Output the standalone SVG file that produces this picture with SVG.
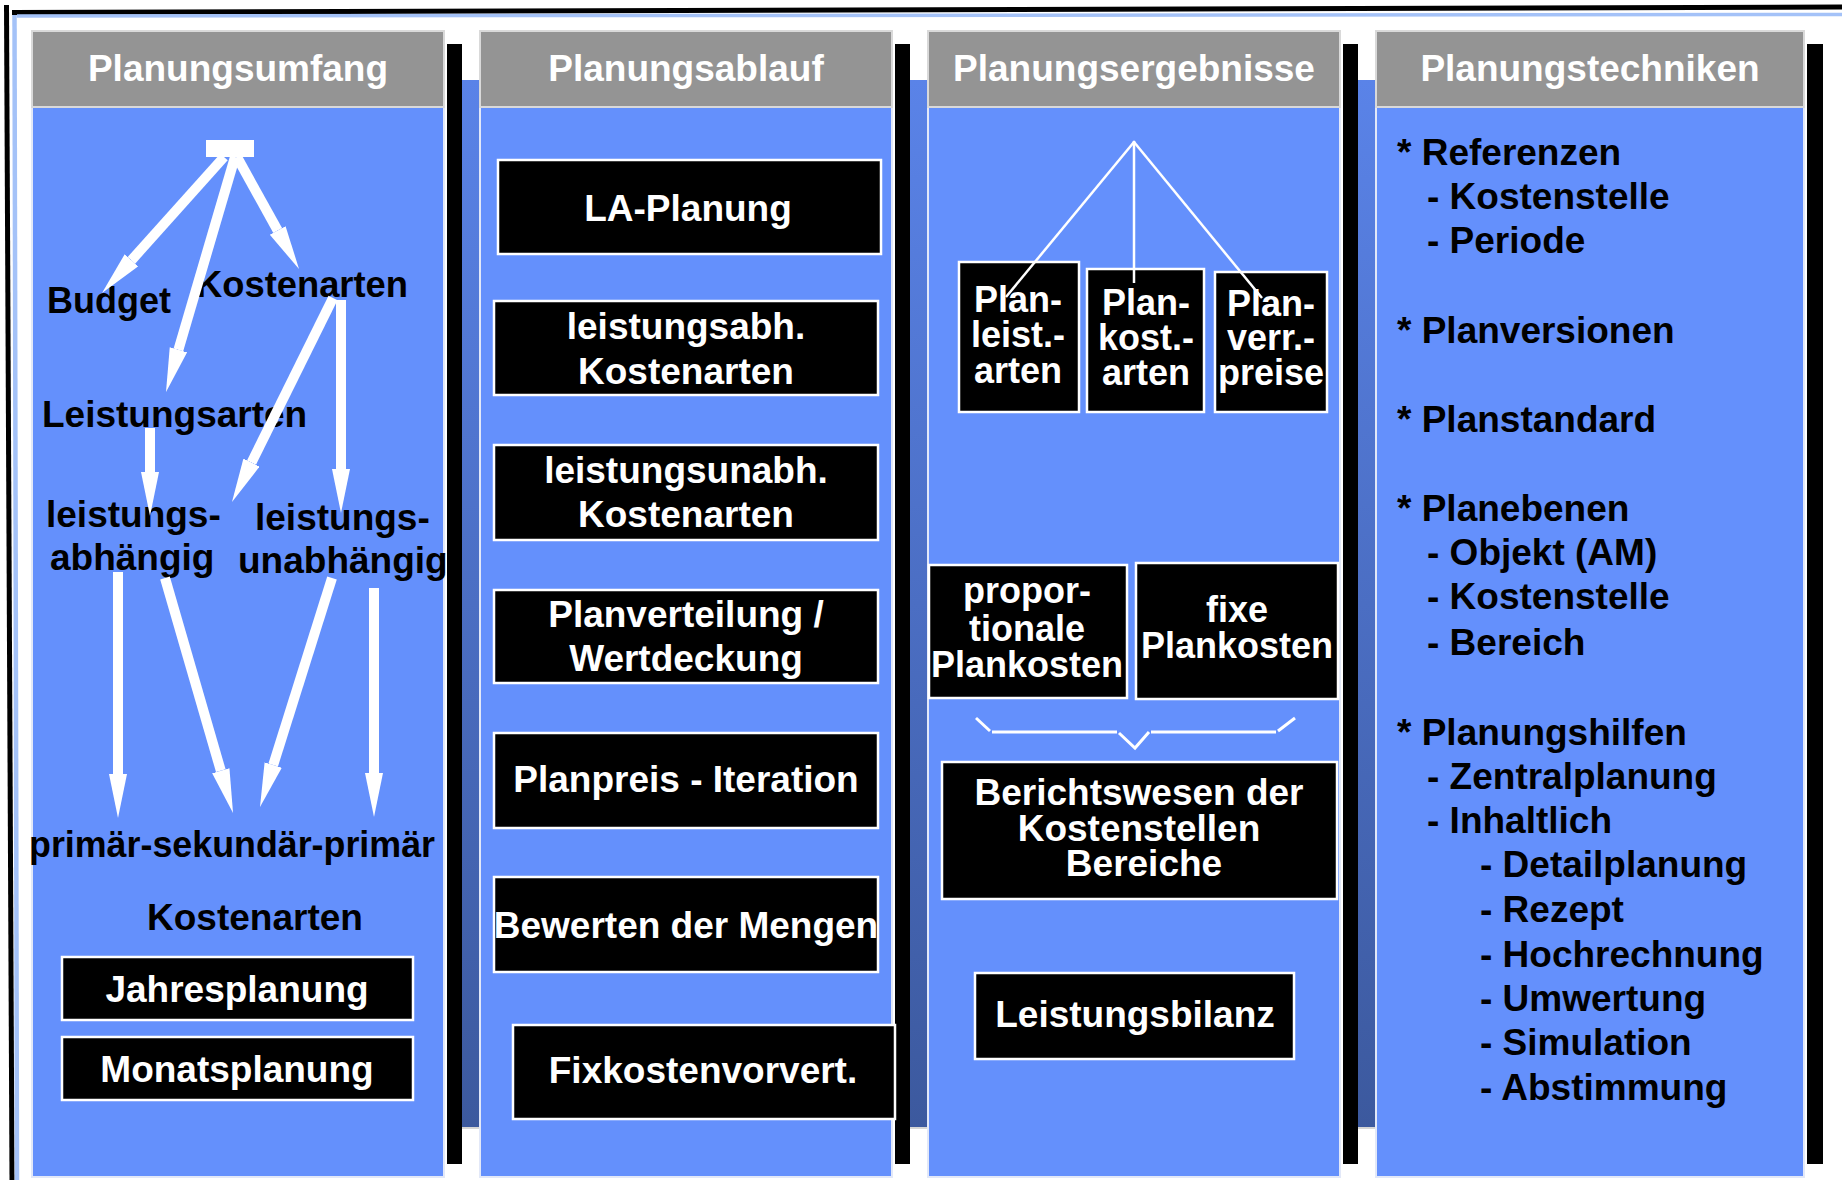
<svg xmlns="http://www.w3.org/2000/svg" width="1842" height="1180" viewBox="0 0 1842 1180">
<defs>
<style>
.hdr{fill:#949494;stroke:#d9d9d9;stroke-width:2}
.body{fill:#6490fc;stroke:#e2e8f8;stroke-width:2}
.bar{fill:#000}
.strip{fill:url(#sg)}
.box{fill:#000;stroke:#fff;stroke-width:2.5}
text{font-family:"Liberation Sans",Arial,sans-serif;font-weight:bold;font-size:37px}
.ht{fill:#fff;text-anchor:middle}
.bt{fill:#fff;text-anchor:middle}
.bt36{fill:#fff;text-anchor:middle;font-size:36px}
.lt{fill:#000}
.arr{stroke:#fff;stroke-width:10;fill:none;marker-end:url(#ah)}
.thin{stroke:#fff;stroke-width:2.5;fill:none}
.brk{stroke:#fff;stroke-width:3;fill:none}
</style>
<linearGradient id="sg" x1="0" y1="0" x2="0" y2="1">
<stop offset="0" stop-color="#5a83e8"/>
<stop offset="1" stop-color="#3c599e"/>
</linearGradient>
<marker id="ah" markerUnits="userSpaceOnUse" markerWidth="46" markerHeight="20" refX="0" refY="9" orient="auto">
<path d="M0,0 L44,9 L0,18 Z" fill="#fff"/>
</marker>
</defs>

<rect x="0" y="0" width="1842" height="1180" fill="#fff"/>

<g id="frame">
<line x1="6.5" y1="5" x2="12" y2="1180" stroke="#000" stroke-width="5"/>
<line x1="14.5" y1="12" x2="17" y2="1180" stroke="#a4c2f8" stroke-width="4.5"/>
<line x1="12" y1="12.5" x2="1842" y2="7" stroke="#000" stroke-width="5"/>
<line x1="17" y1="16" x2="1842" y2="14.5" stroke="#a4c2f8" stroke-width="3.5"/>
</g>

<g id="separators">
<rect class="strip" x="462" y="80" width="18" height="1047"/>
<rect class="strip" x="910" y="80" width="18" height="1047"/>
<rect class="strip" x="1358" y="80" width="18" height="1047"/>
<line x1="462" y1="1128" x2="480" y2="1128" stroke="#c8c8c8" stroke-width="1.5"/>
<line x1="910" y1="1128" x2="928" y2="1128" stroke="#c8c8c8" stroke-width="1.5"/>
<line x1="1358" y1="1128" x2="1376" y2="1128" stroke="#c8c8c8" stroke-width="1.5"/>
<rect class="bar" x="447" y="44" width="15" height="1120"/>
<rect class="bar" x="895" y="44" width="15" height="1120"/>
<rect class="bar" x="1343" y="44" width="15" height="1120"/>
<rect class="bar" x="1807" y="44" width="16" height="1120"/>
</g>

<g id="col-planungsumfang">
<rect class="body" x="32" y="107" width="412" height="1070"/>
<rect class="hdr" x="32" y="31" width="412" height="76"/>
<text class="ht" x="238" y="81">Planungsumfang</text>
</g>
<g id="col-planungsablauf">
<rect class="body" x="480" y="107" width="412" height="1070"/>
<rect class="hdr" x="480" y="31" width="412" height="76"/>
<text class="ht" x="686" y="81">Planungsablauf</text>
</g>
<g id="col-planungsergebnisse">
<rect class="body" x="928" y="107" width="412" height="1070"/>
<rect class="hdr" x="928" y="31" width="412" height="76"/>
<text class="ht" x="1134" y="81">Planungsergebnisse</text>
</g>
<g id="col-planungstechniken">
<rect class="body" x="1376" y="107" width="428" height="1070"/>
<rect class="hdr" x="1376" y="31" width="428" height="76"/>
<text class="ht" x="1590" y="81">Planungstechniken</text>
</g>

<!-- Column 1 nodes -->
<g id="n-root"><rect x="206" y="140" width="48" height="17" fill="#fff"/></g>
<g id="n-budget"><text class="lt" x="47" y="313" textLength="124" lengthAdjust="spacingAndGlyphs">Budget</text></g>
<g id="n-kostenarten"><text class="lt" x="196" y="297" textLength="212" lengthAdjust="spacingAndGlyphs">Kostenarten</text></g>
<g id="n-leistungsarten"><text class="lt" x="42" y="427">Leistungsarten</text></g>
<g id="n-la-abh"><text class="lt" x="46" y="527">leistungs-</text><text class="lt" x="50" y="570">abhängig</text></g>
<g id="n-la-unabh"><text class="lt" x="255" y="530">leistungs-</text><text class="lt" x="238" y="573">unabhängig</text></g>
<g id="n-psp"><text class="lt" x="29" y="857" textLength="406" lengthAdjust="spacingAndGlyphs">primär-sekundär-primär</text></g>
<g id="n-kostenarten2"><text class="lt" x="147" y="930">Kostenarten</text></g>
<g id="n-jahres"><rect class="box" x="62" y="957" width="351" height="63"/><text class="bt" x="237" y="1002">Jahresplanung</text></g>
<g id="n-monats"><rect class="box" x="62" y="1037" width="351" height="63"/><text class="bt" x="237" y="1082">Monatsplanung</text></g>

<!-- Column 2 nodes -->
<g id="n-la-planung"><rect class="box" x="498" y="160" width="383" height="94"/><text class="bt" x="688" y="221">LA-Planung</text></g>
<g id="n-lsabh"><rect class="box" x="494" y="301" width="384" height="94"/><text class="bt" x="686" y="339">leistungsabh.</text><text class="bt" x="686" y="384">Kostenarten</text></g>
<g id="n-lsunabh"><rect class="box" x="494" y="445" width="384" height="95"/><text class="bt" x="686" y="483">leistungsunabh.</text><text class="bt" x="686" y="527">Kostenarten</text></g>
<g id="n-planvert"><rect class="box" x="494" y="590" width="384" height="93"/><text class="bt" x="686" y="627">Planverteilung /</text><text class="bt" x="686" y="671">Wertdeckung</text></g>
<g id="n-planpreis"><rect class="box" x="494" y="733" width="384" height="95"/><text class="bt" x="686" y="792">Planpreis - Iteration</text></g>
<g id="n-bewerten"><rect class="box" x="494" y="877" width="384" height="95"/><text class="bt" x="686" y="938">Bewerten der Mengen</text></g>
<g id="n-fixvor"><rect class="box" x="513" y="1025" width="382" height="94"/><text class="bt" x="703" y="1083">Fixkostenvorvert.</text></g>

<!-- Column 3 nodes -->
<g id="n-apex"><circle cx="1134" cy="142" r="1.5" fill="#fff"/></g>
<g id="n-planleist"><rect class="box" x="959" y="262" width="120" height="150"/><text class="bt36" x="1018" y="312">Plan-</text><text class="bt36" x="1018" y="347">leist.-</text><text class="bt36" x="1018" y="383">arten</text></g>
<g id="n-plankost"><rect class="box" x="1087" y="269" width="117" height="143"/><text class="bt36" x="1146" y="315">Plan-</text><text class="bt36" x="1146" y="350">kost.-</text><text class="bt36" x="1146" y="385">arten</text></g>
<g id="n-planverr"><rect class="box" x="1215" y="272" width="112" height="140"/><text class="bt36" x="1271" y="316">Plan-</text><text class="bt36" x="1271" y="350">verr.-</text><text class="bt36" x="1271" y="385">preise</text></g>
<g id="n-prop"><rect class="box" x="929" y="565" width="198" height="133"/><text class="bt36" x="1027" y="603">propor-</text><text class="bt36" x="1027" y="641">tionale</text><text class="bt36" x="1027" y="677">Plankosten</text></g>
<g id="n-fixe"><rect class="box" x="1136" y="563" width="202" height="136"/><text class="bt36" x="1237" y="622">fixe</text><text class="bt36" x="1237" y="658">Plankosten</text></g>
<g id="n-bericht"><rect class="box" x="942" y="762" width="395" height="137"/><text class="bt" x="1139" y="805">Berichtswesen der</text><text class="bt" x="1139" y="841">Kostenstellen</text><text class="bt" x="1144" y="876">Bereiche</text></g>
<g id="n-lbilanz"><rect class="box" x="975" y="973" width="319" height="86"/><text class="bt" x="1135" y="1027">Leistungsbilanz</text></g>

<!-- Column 4 list -->
<g id="n-techniken" class="lt">
<text x="1397" y="165">* Referenzen</text>
<text x="1427" y="209">- Kostenstelle</text>
<text x="1427" y="253">- Periode</text>
<text x="1397" y="343">* Planversionen</text>
<text x="1397" y="432">* Planstandard</text>
<text x="1397" y="521">* Planebenen</text>
<text x="1427" y="565">- Objekt (AM)</text>
<text x="1427" y="609">- Kostenstelle</text>
<text x="1427" y="655">- Bereich</text>
<text x="1397" y="745">* Planungshilfen</text>
<text x="1427" y="789">- Zentralplanung</text>
<text x="1427" y="833">- Inhaltlich</text>
<text x="1480" y="877">- Detailplanung</text>
<text x="1480" y="922">- Rezept</text>
<text x="1480" y="967">- Hochrechnung</text>
<text x="1480" y="1011">- Umwertung</text>
<text x="1480" y="1055">- Simulation</text>
<text x="1480" y="1100">- Abstimmung</text>
</g>

<g id="connectors">
<line class="arr" x1="224" y1="157" x2="131.4" y2="260.3"/>
<line class="arr" x1="235" y1="157" x2="178.4" y2="349.8"/>
<line class="arr" x1="237" y1="157" x2="277.7" y2="230.5"/>
<line class="arr" x1="341" y1="300" x2="341" y2="469"/>
<line class="arr" x1="333" y1="298" x2="251.5" y2="462.6"/>
<line class="arr" x1="150" y1="428" x2="150" y2="472"/>
<line class="arr" x1="118" y1="572" x2="118" y2="774"/>
<line class="arr" x1="165" y1="578" x2="220.8" y2="770.7"/>
<line class="arr" x1="332" y1="578" x2="273.2" y2="765"/>
<line class="arr" x1="374" y1="588" x2="374" y2="773"/>
<line class="thin" x1="1134" y1="142" x2="1006" y2="297"/>
<line class="thin" x1="1134" y1="142" x2="1134" y2="283"/>
<line class="thin" x1="1134" y1="142" x2="1262" y2="298"/>
<polyline class="brk" points="976,718 990,731"/>
<polyline class="brk" points="992,732 1117,732"/>
<polyline class="brk" points="1119,733 1135,748 1149,732"/>
<polyline class="brk" points="1151,732 1276,732"/>
<polyline class="brk" points="1278,731 1295,718"/>
</g>
</svg>
